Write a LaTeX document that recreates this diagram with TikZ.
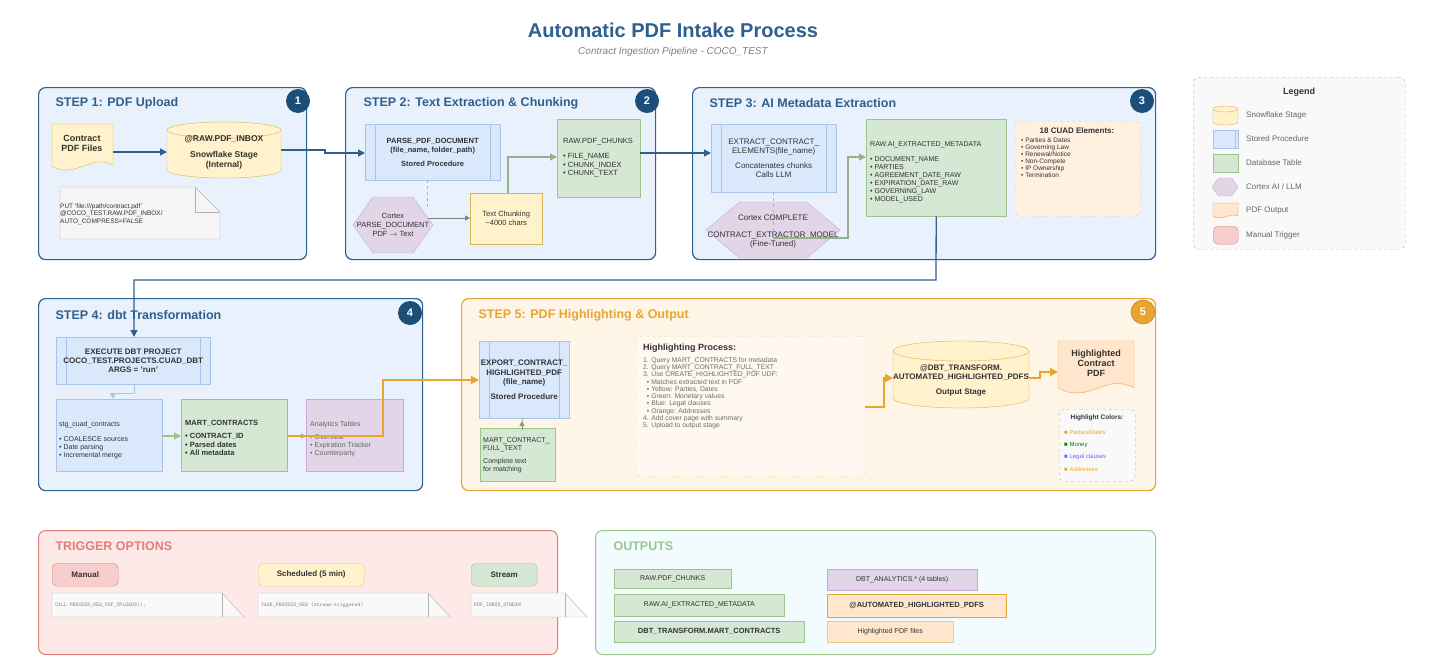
\documentclass[tikz,border=0pt]{standalone}
\usepackage{fontspec}
\setmainfont{Liberation Sans}
\usetikzlibrary{arrows.meta}
\definecolor{stepfill}{HTML}{E9F2FC}\definecolor{stepdraw}{HTML}{2F5F8E}\definecolor{numfill}{HTML}{1B4F7A}
\definecolor{yelf}{HTML}{FFF2CC}\definecolor{yeld}{HTML}{D6B656}
\definecolor{bluf}{HTML}{DAE8FC}\definecolor{blud}{HTML}{A9C4EB}
\definecolor{grnf}{HTML}{D5E8D4}\definecolor{grnd}{HTML}{9CC58A}
\definecolor{purf}{HTML}{E1D5E7}\definecolor{purd}{HTML}{C9A8D6}
\definecolor{orgf}{HTML}{FFE6CC}\definecolor{orgd}{HTML}{E8A43A}
\definecolor{redf}{HTML}{F8CECC}\definecolor{redd}{HTML}{E0807A}
\definecolor{s5f}{HTML}{FFF5E6}\definecolor{s5d}{HTML}{E8A530}
\definecolor{txt}{HTML}{333333}
\newcommand\cylA[5]{% x1 y1 x2 y2 ry
 \draw[yeld,fill=yelf] (#1,{#2+#5}) -- (#1,{#4-#5}) arc[start angle=180,end angle=0,x radius={(#3-#1)/2},y radius=#5] -- (#3,{#2+#5}) arc[start angle=0,end angle=-180,x radius={(#3-#1)/2},y radius=#5] -- cycle;
 \draw[yeld] (#1,{#2+#5}) arc[start angle=180,end angle=0,x radius={(#3-#1)/2},y radius=#5];}
\newcommand\hexA[4]{% cx cy w h
 \draw[purd,fill=purf] ({#1-#3/2},#2) -- ({#1-#3/4},{#2-#4/2}) -- ({#1+#3/4},{#2-#4/2}) -- ({#1+#3/2},#2) -- ({#1+#3/4},{#2+#4/2}) -- ({#1-#3/4},{#2+#4/2}) -- cycle;}
\begin{document}
\begin{tikzpicture}[x=1pt,y=-1pt,
 font=\fontsize{8}{9}\selectfont, text=txt,
 stepbox/.style={draw=stepdraw,fill=stepfill,line width=1.2pt,rounded corners=7,anchor=north west,inner sep=0},
 stitle/.style={anchor=west,font=\bfseries\fontsize{12.5}{14}\selectfont,text=stepdraw},
 num/.style={circle,fill=numfill,text=white,font=\bfseries\fontsize{11}{12}\selectfont,minimum size=24,inner sep=0},
 box/.style={anchor=north west,inner sep=0,align=center},
 proc/.style={box,draw=blud,fill=bluf,path picture={
   \draw[blud] ([xshift=10pt]path picture bounding box.north west) -- ([xshift=10pt]path picture bounding box.south west);
   \draw[blud] ([xshift=-10pt]path picture bounding box.north east) -- ([xshift=-10pt]path picture bounding box.south east);}},
 tbl/.style={box,draw=grnd,fill=grnf},
 lbl/.style={inner sep=0,align=center},
 main/.style={draw=stepdraw,line width=1.3pt,-{Triangle[length=7pt,width=7pt]}},
 garr/.style={draw=grnd!80!black!80,line width=1.3pt,-{Triangle[length=7pt,width=7pt]}},
 oarr/.style={draw=s5d,line width=1.8pt,-{Triangle[length=8pt,width=8pt]}},
 dsh/.style={draw=gray!60,dashed},
 card/.style={draw=gray!60,fill=gray!8},
 pill/.style={box,rounded corners=5,font=\bfseries\fontsize{8}{9}\selectfont}
]
\useasboundingbox (0,0) rectangle (1447,670);
\fill[white] (0,0) rectangle (1447,670);
% title
\node[lbl,font=\bfseries\fontsize{20}{22}\selectfont,text=stepdraw] (title) at (673,30) {Automatic PDF Intake Process};
\node[lbl,font=\itshape\fontsize{10}{12}\selectfont,text=gray] (sub) at (673,52) {Contract Ingestion Pipeline - COCO\_TEST};

% step boxes
\node[stepbox,minimum width=268,minimum height=172] (s1) at (38,87) {};
\node[stepbox,minimum width=310,minimum height=172] (s2) at (345,87) {};
\node[stepbox,minimum width=463,minimum height=172] (s3) at (692,87) {};
\node[stepbox,minimum width=384,minimum height=192] (s4) at (38,298) {};
\node[stepbox,draw=s5d,fill=s5f,minimum width=694,minimum height=192] (s5) at (461,298) {};
\node[stitle] (t1) at (52,103) {STEP 1: PDF Upload};
\node[stitle] (t2) at (360,103) {STEP 2: Text Extraction \& Chunking};
\node[stitle] (t3) at (706,103) {STEP 3: AI Metadata Extraction};
\node[stitle] (t4) at (52,315) {STEP 4: dbt Transformation};
\node[stitle,text=s5d] (t5) at (475,315) {STEP 5: PDF Highlighting \& Output};
\node[num] (n1) at (298,101) {1};
\node[num] (n2) at (647,101) {2};
\node[num] (n3) at (1142,101) {3};
\node[num] (n4) at (410,313) {4};
\node[num,fill=s5d,draw=orgd!70!black] (n5) at (1143,312) {5};

% legend
\node[box,draw=gray!60,dashed,fill=gray!5,rounded corners=6,minimum width=212,minimum height=172] (leg) at (1193,77) {};
\node[lbl,font=\bfseries\fontsize{9}{10}\selectfont] (legt) at (1299,92) {Legend};
\cylA{1213}{106}{1238}{125}{3}
\node[proc,minimum width=25,minimum height=18,path picture={\draw[blud] ([xshift=-3pt]path picture bounding box.north east) -- ([xshift=-3pt]path picture bounding box.south east);}] (lg2) at (1213,130) {};
\node[tbl,minimum width=25,minimum height=18] (lg3) at (1213,154) {};
\hexA{1225}{187}{26}{18}
\draw[orgd,fill=orgf] (1213,203) -- (1238,203) -- (1238,216) .. controls (1230,212) and (1222,222) .. (1213,216) -- cycle;
\node[pill,draw=redd,fill=redf,minimum width=25,minimum height=18] (lg6) at (1213,226) {};
\foreach \y/\t in {115/{Snowflake Stage},139/{Stored Procedure},163/{Database Table},187/{Cortex AI / LLM},211/{PDF Output},235/{Manual Trigger}}
  \node[anchor=west,inner sep=0,text=gray!80!black] at (1246,\y) {\t};

% STEP 1
\draw[yeld,fill=yelf] (52,124) -- (113,124) -- (113,165) .. controls (92,153) and (74,180) .. (52,166) -- cycle;
\node[lbl,font=\bfseries\fontsize{9}{10}\selectfont] (doc1) at (82,143) {Contract\\PDF Files};
\cylA{167}{122}{281}{178}{8}
\node[lbl,font=\bfseries\fontsize{8.5}{10}\selectfont] (stage1) at (224,152) {@RAW.PDF\_INBOX\\[6pt]Snowflake Stage\\(Internal)};
\coordinate (stage1E) at (281,150);
\coordinate (doc1E) at (113,152);
\coordinate (stage1W) at (167,152);
\draw[card] (60,187) -- (195,187) -- (220,212) -- (220,239) -- (60,239) -- cycle;
\draw[gray!60] (195,187) -- (195,212) -- (220,212);
\node[anchor=west,lbl,align=left,font=\fontsize{6.5}{7.5}\selectfont] (put) at (60,214) {PUT 'file:///path/contract.pdf'\\@COCO\_TEST.RAW.PDF\_INBOX/\\AUTO\_COMPRESS=FALSE};
\draw[main] (doc1E) -- (stage1W);

% STEP 2
\node[proc,minimum width=135,minimum height=56] (parse) at (365,124) {};
\node[lbl,font=\fontsize{7.5}{9}\selectfont] at (parse.center) {\textbf{PARSE\_PDF\_DOCUMENT}\\\textbf{(file\_name, folder\_path)}\\[5pt]\textbf{Stored Procedure}};
\hexA{393}{225}{80}{56}
\node[lbl,font=\fontsize{7.5}{9}\selectfont] (cortex1) at (393,225) {Cortex\\PARSE\_DOCUMENT\\PDF $\rightarrow$ Text};
\node[box,draw=yeld,fill=yelf,minimum width=72,minimum height=51,font=\fontsize{7.5}{9}\selectfont] (chunk) at (470,193) {Text Chunking\\\textasciitilde4000 chars};
\node[tbl,minimum width=83,minimum height=78] (chunks) at (557,119) {};
\node[anchor=north west,lbl,align=left,font=\fontsize{7.5}{8.5}\selectfont] at (563,138) {RAW.PDF\_CHUNKS\\[7pt]• FILE\_NAME\\• CHUNK\_INDEX\\• CHUNK\_TEXT};
\draw[main] (stage1E) -- (325,150) -- (325,153) -- (parse.west |- 0,153);
\draw[dsh] (427,180) -- (427,208);
\draw[draw=gray,-{Triangle[length=5pt,width=5pt]}] (428,218) -- (chunk.west |- 0,218);
\draw[garr] (508,193) -- (508,157) -- (557,157);

% STEP 3
\node[proc,minimum width=125,minimum height=68] (extract) at (711,124) {};
\node[lbl,font=\fontsize{8}{9.5}\selectfont] at ([yshift=0pt]extract.center) {EXTRACT\_CONTRACT\_\\ELEMENTS(file\_name)\\[5pt]Concatenates chunks\\Calls LLM};
\hexA{773}{230}{134}{56}
\node[lbl,font=\fontsize{8}{9.5}\selectfont] (cortex2) at (773,232) {Cortex COMPLETE\\[7pt]CONTRACT\_EXTRACTOR\_MODEL\\(Fine-Tuned)};
\node[tbl,minimum width=140,minimum height=97] (meta) at (866,119) {};
\node[anchor=north west,lbl,align=left,font=\fontsize{7}{8}\selectfont] at (870,141) {RAW.AI\_EXTRACTED\_METADATA\\[7pt]• DOCUMENT\_NAME\\• PARTIES\\• AGREEMENT\_DATE\_RAW\\• EXPIRATION\_DATE\_RAW\\• GOVERNING\_LAW\\• MODEL\_USED};
\node[box,draw=orgd!60,fill=orgf!60,dashed,rounded corners=5,minimum width=125,minimum height=95] (cuad) at (1015,121) {};
\node[lbl,font=\bfseries\fontsize{8}{9}\selectfont] at (1077,131) {18 CUAD Elements:};
\node[anchor=north west,lbl,align=left,font=\fontsize{6.5}{7}\selectfont] at (1021,138) {• Parties \& Dates\\• Governing Law\\• Renewal/Notice\\• Non-Compete\\• IP Ownership\\• Termination};
\draw[main] (640,153) -- (extract.west |- 0,153);
\draw[dsh] (773,192) -- (773,238);
\draw[garr] (773,238) -- (848,238) -- (848,157) -- (866,157);

% STEP 4
\node[proc,minimum width=154,minimum height=47,font=\bfseries\fontsize{8}{9}\selectfont] (exec) at (56,337) {EXECUTE DBT PROJECT\\COCO\_TEST.PROJECTS.CUAD\_DBT\\ARGS = 'run'};
\draw[main] (meta.south) -- (936,280) -- (134,280) -- (exec.north -| 134,0);
\node[box,draw=blud,fill=bluf,minimum width=106,minimum height=72] (stg) at (56,399) {};
\node[anchor=north west,lbl,align=left,font=\fontsize{7}{8}\selectfont] at (59,421) {stg\_cuad\_contracts\\[7pt]• COALESCE sources\\• Date parsing\\• Incremental merge};
\node[tbl,minimum width=106,minimum height=72] (mart) at (181,399) {};
\node[anchor=north west,lbl,align=left,font=\bfseries\fontsize{7.5}{8.5}\selectfont] at (185,420) {MART\_CONTRACTS\\[5pt]• CONTRACT\_ID\\• Parsed dates\\• All metadata};
\node[box,draw=purd,fill=purf,minimum width=97,minimum height=72] (anl) at (306,399) {};
\node[anchor=north west,lbl,align=left,font=\fontsize{7}{8}\selectfont,text=gray!80!black] at (310,421) {Analytics Tables\\[5pt]• Overview\\• Expiration Tracker\\• Counterparty};
\draw[blud,line width=1pt,-{Triangle[length=6pt,width=6pt]}] (134,384) -- (134,393) -- (113,393) -- (stg.north -| 113,0);
\draw[garr,draw=grnd] (stg.east |- 0,436) -- (mart.west |- 0,436);
\draw[purd!70!gray,-{Triangle[length=5pt,width=5pt]}] (mart.east |- 0,436) -- (anl.west |- 0,436);

% STEP 5
\node[proc,minimum width=90,minimum height=77,font=\fontsize{8}{9.5}\selectfont] (export) at (479,341) {\textbf{EXPORT\_CONTRACT\_}\\\textbf{HIGHLIGHTED\_PDF}\\\textbf{(file\_name)}\\[5pt]\textbf{Stored Procedure}};
\draw[oarr] (287,436) -- (383,436) -- (383,380) -- (export.west |- 0,380);
\node[tbl,minimum width=75,minimum height=53] (full) at (480,428) {};
\node[anchor=north west,lbl,align=left,font=\fontsize{7}{8}\selectfont] at (483,437) {MART\_CONTRACT\_\\FULL\_TEXT\\[5pt]Complete text\\for matching};
\draw[dsh] (export.south -| 522,0) -- (522,428);
\draw[grnd!80!black,-{Triangle[length=5pt,width=5pt]}] (522,430) -- (522,421);
\node[box,draw=orgd!50,fill=orgf!30,dashed,rounded corners=6,minimum width=230,minimum height=140] (hp) at (635,336) {};
\node[anchor=north west,lbl,align=left,font=\bfseries\fontsize{9}{10}\selectfont] at (643,344) {Highlighting Process:};
\node[anchor=north west,lbl,align=left,font=\fontsize{6.8}{7.3}\selectfont,text=gray!85!black] at (643,357) {1. Query MART\_CONTRACTS for metadata\\2. Query MART\_CONTRACT\_FULL\_TEXT\\3. Use CREATE\_HIGHLIGHTED\_PDF UDF:\\\ \ • Matches extracted text in PDF\\\ \ • Yellow: Parties, Dates\\\ \ • Green: Monetary values\\\ \ • Blue: Legal clauses\\\ \ • Orange: Addresses\\4. Add cover page with summary\\5. Upload to output stage};
\cylA{893}{341}{1029}{408}{10}
\node[lbl,font=\bfseries\fontsize{8}{9.5}\selectfont] (outst) at (961,380) {@DBT\_TRANSFORM.\\AUTOMATED\_HIGHLIGHTED\_PDFS\\[5pt]Output Stage};
\draw[oarr] (hp.east |- 0,407) -- (884,407) -- (884,378) -- (893,378);
\draw[orgd,fill=orgf] (1058,341) -- (1134,341) -- (1134,388) .. controls (1105,372) and (1090,405) .. (1058,388) -- cycle;
\node[lbl,font=\bfseries\fontsize{9}{10}\selectfont] (hpdf) at (1096,363) {Highlighted\\Contract\\PDF};
\draw[oarr] (1029,378) -- (1040,378) -- (1040,372) -- (1058,372);
\node[box,draw=gray!60,dashed,fill=gray!5,rounded corners=5,minimum width=76,minimum height=72] (hc) at (1059,409) {};
\node[lbl,font=\bfseries\fontsize{6.5}{7}\selectfont] at (1097,418) {Highlight Colors:};
\node[anchor=west,lbl,font=\fontsize{6}{7}\selectfont,text=s5d] at (1064,432) {■ Parties/Dates};
\node[anchor=west,lbl,font=\fontsize{6}{7}\selectfont,text=green!50!black] at (1064,445) {■ Money};
\node[anchor=west,lbl,font=\fontsize{6}{7}\selectfont,text=blue!60!white] at (1064,457) {■ Legal clauses};
\node[anchor=west,lbl,font=\fontsize{6}{7}\selectfont,text=s5d] at (1064,469) {■ Addresses};

% TRIGGER
\node[stepbox,draw=redd,fill=redf!45,line width=1pt,minimum width=519,minimum height=124] (trig) at (38,530) {};
\node[stitle,text=redd] at (52,546) {TRIGGER OPTIONS};
\node[pill,draw=redd,fill=redf,minimum width=66,minimum height=23] (manual) at (52,563) {Manual};
\node[pill,draw=yeld!70,fill=yelf,minimum width=106,minimum height=23] (sched) at (258,563) {Scheduled (5 min)};
\node[pill,draw=grnd,fill=grnf,minimum width=66,minimum height=23] (stream) at (471,563) {Stream};
\foreach \xa/\xb/\xc/\t in {52/222/244/CALL PROCESS\_NEW\_PDF\_UPLOADS();, 258/428/450/TASK\_PROCESS\_NEW (stream-triggered), 471/565/587/PDF\_INBOX\_STREAM}{
  \draw[card,fill=gray!5] (\xa,593) -- (\xb,593) -- (\xc,617) -- (\xa,617) -- cycle;
  \draw[gray!60] (\xb,593) -- (\xb,617);
  \node[anchor=west,lbl,font=\ttfamily\fontsize{5.5}{6}\selectfont,text=gray] at (\xa+3,605) {\t};}

% OUTPUTS
\node[stepbox,draw=grnd,fill=cyan!5!white,line width=1pt,minimum width=560,minimum height=124] (outs) at (595,530) {};
\node[stitle,text=grnd] at (610,546) {OUTPUTS};
\node[tbl,minimum width=117,minimum height=19,font=\fontsize{7}{8}\selectfont] (o1) at (614,569) {RAW.PDF\_CHUNKS};
\node[tbl,minimum width=170,minimum height=22,font=\fontsize{7}{8}\selectfont] (o2) at (614,594) {RAW.AI\_EXTRACTED\_METADATA};
\node[tbl,minimum width=190,minimum height=21,font=\bfseries\fontsize{7.5}{8}\selectfont] (o3) at (614,621) {DBT\_TRANSFORM.MART\_CONTRACTS};
\node[box,draw=purd,fill=purf,minimum width=150,minimum height=21,font=\fontsize{7}{8}\selectfont] (o4) at (827,569) {DBT\_ANALYTICS.* (4 tables)};
\node[box,draw=orgd,fill=orgf,minimum width=179,minimum height=23,font=\bfseries\fontsize{7.5}{8}\selectfont] (o5) at (827,594) {@AUTOMATED\_HIGHLIGHTED\_PDFS};
\node[box,draw=orgd!60,fill=orgf,minimum width=126,minimum height=21,font=\fontsize{7}{8}\selectfont] (o6) at (827,621) {Highlighted PDF files};
\end{tikzpicture}
\end{document}
